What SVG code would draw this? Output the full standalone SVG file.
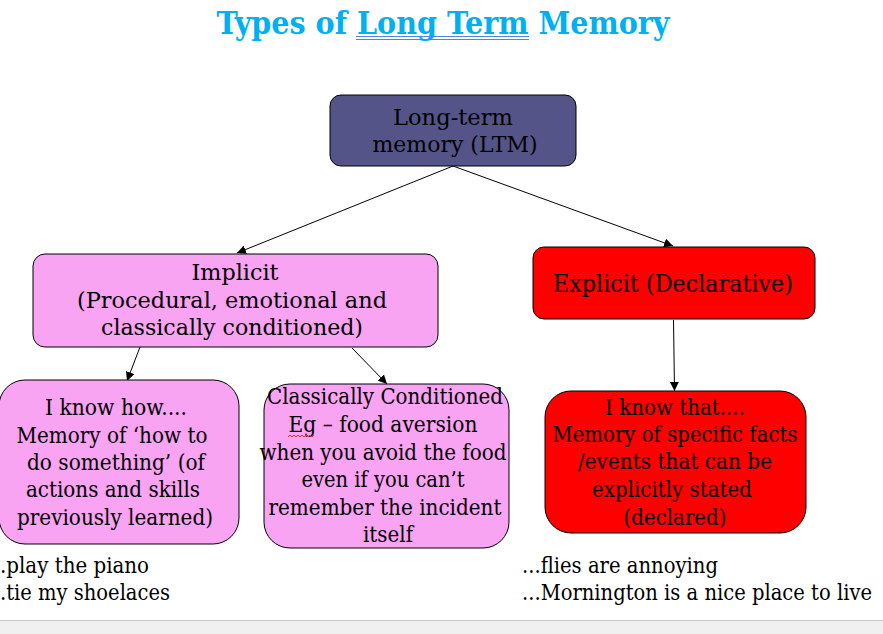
<svg xmlns="http://www.w3.org/2000/svg" width="883" height="634" viewBox="0 0 883 634" font-family="'DejaVu Serif', 'Liberation Serif', serif">
<style>
text{font-family:'DejaVu Serif','Liberation Serif',serif}
.t{fill:#000;text-anchor:middle}
.l{fill:#000}
.big{font-size:23px}
.sm{font-size:22px}
.box{stroke:#000;stroke-width:1}
.pink{fill:#f9a3f3}
.red{fill:#ff0000}
.conn line{stroke:#000;stroke-width:1;marker-end:url(#ah)}
</style>
<defs>
<marker id="ah" viewBox="0 0 10 10" refX="10" refY="5" markerWidth="9" markerHeight="9" markerUnits="userSpaceOnUse" orient="auto">
<path d="M0,0 L10,5 L0,10 Z" fill="#000"/>
</marker>
</defs>
<rect width="883" height="634" fill="#fff"/>
<g id="title">
<text x="443" y="34" font-weight="bold" font-size="31" fill="#00b0f0" text-anchor="middle" textLength="453" lengthAdjust="spacingAndGlyphs">Types of Long Term Memory</text>
<line x1="356" y1="36.5" x2="529" y2="36.5" stroke="#4a86e8" stroke-width="1"/>
<line x1="356" y1="39.5" x2="529" y2="39.5" stroke="#4a86e8" stroke-width="1"/>
</g>
<g class="conn" id="connectors">
<line x1="453" y1="166" x2="237" y2="253"/>
<line x1="453" y1="166" x2="673" y2="246"/>
<line x1="140" y1="347" x2="127" y2="381"/>
<line x1="352" y1="348" x2="387" y2="384"/>
<line x1="673.5" y1="320" x2="674.5" y2="391"/>
</g>
<g id="ltm">
<rect class="box" x="330" y="95" width="246" height="71" rx="11" fill="#545488"/>
<text class="t big" x="453" y="125" textLength="120" lengthAdjust="spacingAndGlyphs">Long-term</text>
<text class="t big" x="455" y="152" textLength="165" lengthAdjust="spacingAndGlyphs">memory (LTM)</text>
</g>
<g id="implicit">
<rect class="box pink" x="33" y="254" width="405" height="93" rx="12"/>
<text class="t big" x="235" y="280" textLength="87" lengthAdjust="spacingAndGlyphs">Implicit</text>
<text class="t big" x="232" y="308" textLength="310" lengthAdjust="spacingAndGlyphs">(Procedural, emotional and</text>
<text class="t big" x="232" y="335" textLength="262" lengthAdjust="spacingAndGlyphs">classically conditioned)</text>
</g>
<g id="explicit">
<rect class="box red" x="533" y="247" width="282" height="72" rx="11"/>
<text class="t" x="673" y="292" font-size="25" textLength="240" lengthAdjust="spacingAndGlyphs">Explicit (Declarative)</text>
</g>
<g id="knowhow">
<rect class="box pink" x="-1" y="380" width="240" height="164" rx="26"/>
<text class="t sm" x="116" y="415" textLength="142" lengthAdjust="spacingAndGlyphs">I know how....</text>
<text class="t sm" x="112" y="443" textLength="191" lengthAdjust="spacingAndGlyphs">Memory of ‘how to</text>
<text class="t sm" x="116" y="470" textLength="178" lengthAdjust="spacingAndGlyphs">do something’ (of</text>
<text class="t sm" x="113" y="497" textLength="174" lengthAdjust="spacingAndGlyphs">actions and skills</text>
<text class="t sm" x="115" y="525" textLength="196" lengthAdjust="spacingAndGlyphs">previously learned)</text>
</g>
<g id="classical">
<rect class="box pink" x="264" y="384" width="245" height="164" rx="26"/>
<text class="t sm" x="385" y="404" textLength="236" lengthAdjust="spacingAndGlyphs">Classically Conditioned</text>
<text class="t sm" x="383" y="432" textLength="189" lengthAdjust="spacingAndGlyphs">Eg – food aversion</text>
<path d="M288,437 l2,-2 l2,2 l2,-2 l2,2 l2,-2 l2,2 l2,-2 l2,2 l2,-2 l2,2 l2,-2 l2,2 l2,-2" fill="none" stroke="#e03030" stroke-width="1"/>
<text class="t sm" x="383" y="460" textLength="247" lengthAdjust="spacingAndGlyphs">when you avoid the food</text>
<text class="t sm" x="383" y="487" textLength="163" lengthAdjust="spacingAndGlyphs">even if you can’t</text>
<text class="t sm" x="385" y="515" textLength="233" lengthAdjust="spacingAndGlyphs">remember the incident</text>
<text class="t sm" x="388" y="542" textLength="50" lengthAdjust="spacingAndGlyphs">itself</text>
</g>
<g id="knowthat">
<rect class="box red" x="545" y="391" width="261" height="142" rx="26"/>
<text class="t sm" x="675" y="415" textLength="140" lengthAdjust="spacingAndGlyphs">I know that....</text>
<text class="t sm" x="675" y="442" textLength="245" lengthAdjust="spacingAndGlyphs">Memory of specific facts</text>
<text class="t sm" x="675" y="469" textLength="194" lengthAdjust="spacingAndGlyphs">/events that can be</text>
<text class="t sm" x="672" y="497" textLength="160" lengthAdjust="spacingAndGlyphs">explicitly stated</text>
<text class="t sm" x="675" y="525" textLength="103" lengthAdjust="spacingAndGlyphs">(declared)</text>
</g>
<g id="implicit-examples">
<text class="l sm" x="0" y="573" textLength="149" lengthAdjust="spacingAndGlyphs">.play the piano</text>
<text class="l sm" x="0" y="600" textLength="170" lengthAdjust="spacingAndGlyphs">.tie my shoelaces</text>
</g>
<g id="explicit-examples">
<text class="l sm" x="522" y="573" textLength="196" lengthAdjust="spacingAndGlyphs">...flies are annoying</text>
<text class="l sm" x="522" y="600" textLength="350" lengthAdjust="spacingAndGlyphs">...Mornington is a nice place to live</text>
</g>
<g id="bottom-bar">
<rect x="0" y="620" width="883" height="14" fill="#f0f0f0"/>
<line x1="0" y1="620.5" x2="883" y2="620.5" stroke="#c8c8c8" stroke-width="1"/>
</g>
</svg>
